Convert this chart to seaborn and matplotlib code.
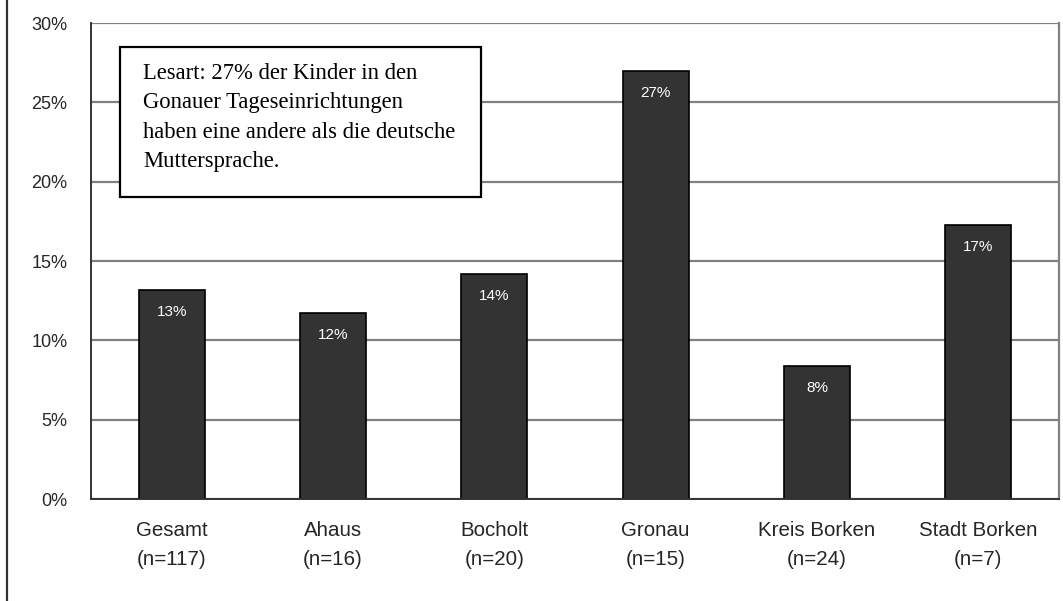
import matplotlib
matplotlib.use("Agg")
import matplotlib.pyplot as plt
import seaborn as sns
import pandas as pd
from matplotlib.lines import Line2D
from matplotlib.patches import Rectangle

# ---- data ----
categories = ["Gesamt\n(n=117)", "Ahaus\n(n=16)", "Bocholt\n(n=20)",
              "Gronau\n(n=15)", "Kreis Borken\n(n=24)", "Stadt Borken\n(n=7)"]
values = [13.2, 11.7, 14.2, 27.0, 8.4, 17.3]
bar_labels = ["13%", "12%", "14%", "27%", "8%", "17%"]
y_ticks = [0, 5, 10, 15, 20, 25, 30]
y_tick_labels = ["0%", "5%", "10%", "15%", "20%", "25%", "30%"]
note_text = ("Lesart: 27% der Kinder in den\nGonauer Tageseinrichtungen\n"
             "haben eine andere als die deutsche\nMuttersprache.")

sns.set_style("white")
plt.rcParams["font.family"] = ["Liberation Sans", "DejaVu Sans"]

W, H = 1063, 601
fig = plt.figure(figsize=(W / 100, H / 100), dpi=100)
fig.patch.set_facecolor("white")

x0, x1, ytop, ybot = 91, 1059, 23, 499
ax = fig.add_axes([x0 / W, 1 - ybot / H, (x1 - x0) / W, (ybot - ytop) / H])

df = pd.DataFrame({"cat": categories, "val": values})
sns.barplot(data=df, x="cat", y="val", color="#333333", saturation=1,
            edgecolor="black", linewidth=1.2, width=0.41, ax=ax)

ax.set_xlim(-0.5, len(categories) - 0.5)
ax.set_ylim(0, 30)
ax.set_yticks(y_ticks)
ax.set_yticklabels(y_tick_labels, fontsize=13)
ax.set_xlabel("")
ax.set_ylabel("")

# gridlines
ax.set_axisbelow(True)
ax.yaxis.grid(True, color="#808080", linewidth=1.6)
ax.xaxis.grid(False)

# spines
ax.spines["top"].set_visible(False)
ax.spines["right"].set_color("#808080")
ax.spines["right"].set_linewidth(1.6)
for s in ("left", "bottom"):
    ax.spines[s].set_color("#333333")
    ax.spines[s].set_linewidth(1.4)

# ticks
ax.tick_params(axis="y", direction="out", length=7, width=1.2, color="#333333", pad=10)
ax.tick_params(axis="x", which="major", length=0, pad=16, labelsize=14.8)
ax.set_xticks([i - 0.5 for i in range(len(categories) + 1)], minor=True)
ax.tick_params(axis="x", which="minor", direction="out", length=7, width=1.2, color="#333333")
for lab in ax.get_xticklabels():
    lab.set_linespacing(1.68)

# bar value labels
for i, (v, t) in enumerate(zip(values, bar_labels)):
    ax.text(i, v - 0.95, t, ha="center", va="top", color="white", fontsize=11)

# annotation box
bx0, by0, bx1, by1 = 120, 47, 481, 197
fig.add_artist(Rectangle((bx0 / W, 1 - by1 / H), (bx1 - bx0) / W, (by1 - by0) / H,
                         transform=fig.transFigure, facecolor="white",
                         edgecolor="black", linewidth=1.6, zorder=5))
fig.text(143 / W, 1 - 63 / H, note_text, ha="left", va="top",
         family=["Liberation Serif", "DejaVu Serif"], fontsize=16.3,
         linespacing=1.53, color="black", zorder=6)

# outer frame line at the left edge
fig.add_artist(Line2D([7 / W, 7 / W], [0, 1], transform=fig.transFigure,
                      color="#333333", linewidth=1.6))

fig.savefig("out.png", dpi=100)
